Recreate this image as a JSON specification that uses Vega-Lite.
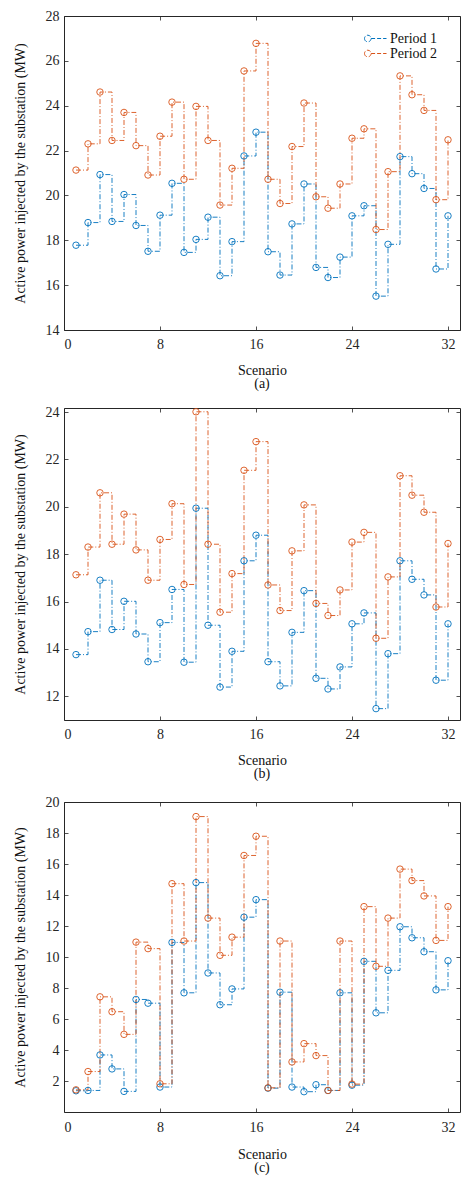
{
  "$schema": "https://vega.github.io/schema/vega-lite/v6.json",
  "padding": {"left": 12, "top": 8, "right": 1, "bottom": 0},
  "background": "white",
  "data": {"values": [
    {"p":"a","s":1,"Period 1":17.78,"Period 2":21.13},{"p":"a","s":2,"Period 1":18.79,"Period 2":22.30},{"p":"a","s":3,"Period 1":20.93,"Period 2":24.61},{"p":"a","s":4,"Period 1":18.84,"Period 2":22.45},
    {"p":"a","s":5,"Period 1":20.04,"Period 2":23.70},{"p":"a","s":6,"Period 1":18.66,"Period 2":22.22},{"p":"a","s":7,"Period 1":17.51,"Period 2":20.91},{"p":"a","s":8,"Period 1":19.12,"Period 2":22.64},
    {"p":"a","s":9,"Period 1":20.54,"Period 2":24.16},{"p":"a","s":10,"Period 1":17.46,"Period 2":20.72},{"p":"a","s":11,"Period 1":18.04,"Period 2":23.97},{"p":"a","s":12,"Period 1":19.03,"Period 2":22.45},
    {"p":"a","s":13,"Period 1":16.42,"Period 2":19.57},{"p":"a","s":14,"Period 1":17.94,"Period 2":21.21},{"p":"a","s":15,"Period 1":21.76,"Period 2":25.55},{"p":"a","s":16,"Period 1":22.82,"Period 2":26.78},
    {"p":"a","s":17,"Period 1":17.49,"Period 2":20.72},{"p":"a","s":18,"Period 1":16.45,"Period 2":19.64},{"p":"a","s":19,"Period 1":18.73,"Period 2":22.18},{"p":"a","s":20,"Period 1":20.51,"Period 2":24.12},
    {"p":"a","s":21,"Period 1":16.79,"Period 2":19.94},{"p":"a","s":22,"Period 1":16.34,"Period 2":19.43},{"p":"a","s":23,"Period 1":17.25,"Period 2":20.51},{"p":"a","s":24,"Period 1":19.09,"Period 2":22.55},
    {"p":"a","s":25,"Period 1":19.54,"Period 2":22.97},{"p":"a","s":26,"Period 1":15.51,"Period 2":18.48},{"p":"a","s":27,"Period 1":17.82,"Period 2":21.06},{"p":"a","s":28,"Period 1":21.73,"Period 2":25.33},
    {"p":"a","s":29,"Period 1":20.97,"Period 2":24.49},{"p":"a","s":30,"Period 1":20.31,"Period 2":23.79},{"p":"a","s":31,"Period 1":16.72,"Period 2":19.81},{"p":"a","s":32,"Period 1":19.09,"Period 2":22.48},
    {"p":"b","s":1,"Period 1":13.76,"Period 2":17.13},{"p":"b","s":2,"Period 1":14.73,"Period 2":18.30},{"p":"b","s":3,"Period 1":16.90,"Period 2":20.59},{"p":"b","s":4,"Period 1":14.82,"Period 2":18.42},
    {"p":"b","s":5,"Period 1":16.01,"Period 2":19.69},{"p":"b","s":6,"Period 1":14.63,"Period 2":18.18},{"p":"b","s":7,"Period 1":13.46,"Period 2":16.90},{"p":"b","s":8,"Period 1":15.11,"Period 2":18.62},
    {"p":"b","s":9,"Period 1":16.51,"Period 2":20.13},{"p":"b","s":10,"Period 1":13.44,"Period 2":16.72},{"p":"b","s":11,"Period 1":19.94,"Period 2":24.01},{"p":"b","s":12,"Period 1":15.00,"Period 2":18.42},
    {"p":"b","s":13,"Period 1":12.39,"Period 2":15.55},{"p":"b","s":14,"Period 1":13.90,"Period 2":17.18},{"p":"b","s":15,"Period 1":17.72,"Period 2":21.54},{"p":"b","s":16,"Period 1":18.80,"Period 2":22.75},
    {"p":"b","s":17,"Period 1":13.46,"Period 2":16.70},{"p":"b","s":18,"Period 1":12.44,"Period 2":15.62},{"p":"b","s":19,"Period 1":14.70,"Period 2":18.14},{"p":"b","s":20,"Period 1":16.46,"Period 2":20.08},
    {"p":"b","s":21,"Period 1":12.76,"Period 2":15.92},{"p":"b","s":22,"Period 1":12.31,"Period 2":15.41},{"p":"b","s":23,"Period 1":13.24,"Period 2":16.49},{"p":"b","s":24,"Period 1":15.06,"Period 2":18.51},
    {"p":"b","s":25,"Period 1":15.52,"Period 2":18.92},{"p":"b","s":26,"Period 1":11.48,"Period 2":14.45},{"p":"b","s":27,"Period 1":13.80,"Period 2":17.04},{"p":"b","s":28,"Period 1":17.72,"Period 2":21.31},
    {"p":"b","s":29,"Period 1":16.94,"Period 2":20.49},{"p":"b","s":30,"Period 1":16.28,"Period 2":19.77},{"p":"b","s":31,"Period 1":12.68,"Period 2":15.77},{"p":"b","s":32,"Period 1":15.06,"Period 2":18.45},
    {"p":"c","s":1,"Period 1":1.37,"Period 2":1.43},{"p":"c","s":2,"Period 1":1.39,"Period 2":2.61},{"p":"c","s":3,"Period 1":3.68,"Period 2":7.43},{"p":"c","s":4,"Period 1":2.78,"Period 2":6.47},
    {"p":"c","s":5,"Period 1":1.33,"Period 2":5.01},{"p":"c","s":6,"Period 1":7.26,"Period 2":10.96},{"p":"c","s":7,"Period 1":7.02,"Period 2":10.54},{"p":"c","s":8,"Period 1":1.61,"Period 2":1.82},
    {"p":"c","s":9,"Period 1":10.94,"Period 2":14.73},{"p":"c","s":10,"Period 1":7.69,"Period 2":11.03},{"p":"c","s":11,"Period 1":14.80,"Period 2":19.06},{"p":"c","s":12,"Period 1":8.97,"Period 2":12.51},
    {"p":"c","s":13,"Period 1":6.92,"Period 2":10.11},{"p":"c","s":14,"Period 1":7.94,"Period 2":11.28},{"p":"c","s":15,"Period 1":12.57,"Period 2":16.55},{"p":"c","s":16,"Period 1":13.70,"Period 2":17.79},
    {"p":"c","s":17,"Period 1":1.54,"Period 2":1.56},{"p":"c","s":18,"Period 1":7.73,"Period 2":11.03},{"p":"c","s":19,"Period 1":1.61,"Period 2":3.23},{"p":"c","s":20,"Period 1":1.31,"Period 2":4.41},
    {"p":"c","s":21,"Period 1":1.76,"Period 2":3.64},{"p":"c","s":22,"Period 1":1.39,"Period 2":1.39},{"p":"c","s":23,"Period 1":7.69,"Period 2":11.03},{"p":"c","s":24,"Period 1":1.73,"Period 2":1.80},
    {"p":"c","s":25,"Period 1":9.72,"Period 2":13.25},{"p":"c","s":26,"Period 1":6.40,"Period 2":9.40},{"p":"c","s":27,"Period 1":9.14,"Period 2":12.51},{"p":"c","s":28,"Period 1":11.95,"Period 2":15.67},
    {"p":"c","s":29,"Period 1":11.24,"Period 2":14.93},{"p":"c","s":30,"Period 1":10.34,"Period 2":13.94},{"p":"c","s":31,"Period 1":7.88,"Period 2":11.07},{"p":"c","s":32,"Period 1":9.76,"Period 2":13.25}
  ]},
  "transform": [{"fold": ["Period 1", "Period 2"], "as": ["k", "v"]}],
  "spacing": 12,
  "resolve": {"scale": {"color": "independent"}, "legend": {"color": "independent"}},
  "vconcat": [
    {
      "width": 396, "height": 314,
      "title": {"text": "(a)", "orient": "bottom", "offset": 0},
      "transform": [{"filter": "datum.p == 'a'"}],
      "resolve": {"axis": {"x": "independent", "y": "independent"}},
      "layer": [
        {
          "mark": {"type": "line", "interpolate": "step-after", "strokeDash": [5, 2, 1, 2], "strokeWidth": 0.9},
          "encoding": {
            "x": {"field": "s", "type": "quantitative", "scale": {"domain": [0, 33], "nice": false}, "axis": {"values": [0, 8, 16, 24, 32], "title": "Scenario", "titlePadding": 12}},
            "y": {"field": "v", "type": "quantitative", "scale": {"domain": [14, 28], "nice": false, "zero": false}, "axis": {"values": [14, 16, 18, 20, 22, 24, 26, 28], "title": "Active power injected by the substation (MW)"}},
            "color": {"field": "k", "type": "nominal", "scale": {"domain": ["Period 1", "Period 2"], "range": ["#0072BD", "#D95319"]},
              "legend": {"title": null, "orient": "none", "legendX": 300, "legendY": 15, "symbolType": "M -1 0 a 0.3 0.3 0 1 0 0.6 0 a 0.3 0.3 0 1 0 -0.6 0 M -0.4 0 L 1 0", "symbolSize": 484, "symbolStrokeWidth": 1, "symbolDash": [4, 2], "symbolFillColor": "transparent", "clipHeight": 15, "rowPadding": 0, "padding": 0, "labelFontSize": 14, "labelFont": "Liberation Serif", "labelColor": "#111", "labelOffset": 3}}
          }
        },
        {
          "mark": {"type": "point", "shape": "circle", "filled": false, "size": 42, "strokeWidth": 0.9, "opacity": 1},
          "encoding": {
            "x": {"field": "s", "type": "quantitative", "axis": {"orient": "top", "values": [0, 8, 16, 24, 32], "labels": false, "title": null}},
            "y": {"field": "v", "type": "quantitative", "axis": {"orient": "right", "values": [14, 16, 18, 20, 22, 24, 26, 28], "labels": false, "title": null}},
            "color": {"field": "k", "type": "nominal", "legend": null}
          }
        }
      ]
    },
    {
      "width": 396, "height": 312,
      "title": {"text": "(b)", "orient": "bottom", "offset": 0},
      "transform": [{"filter": "datum.p == 'b'"}],
      "resolve": {"axis": {"x": "independent", "y": "independent"}},
      "layer": [
        {
          "mark": {"type": "line", "interpolate": "step-after", "strokeDash": [5, 2, 1, 2], "strokeWidth": 0.9},
          "encoding": {
            "x": {"field": "s", "type": "quantitative", "scale": {"domain": [0, 33], "nice": false}, "axis": {"values": [0, 8, 16, 24, 32], "title": "Scenario", "titlePadding": 12}},
            "y": {"field": "v", "type": "quantitative", "scale": {"domain": [11, 24.17], "nice": false, "zero": false}, "axis": {"values": [12, 14, 16, 18, 20, 22, 24], "title": "Active power injected by the substation (MW)"}},
            "color": {"field": "k", "type": "nominal", "scale": {"domain": ["Period 1", "Period 2"], "range": ["#0072BD", "#D95319"]}, "legend": null}
          }
        },
        {
          "mark": {"type": "point", "shape": "circle", "filled": false, "size": 42, "strokeWidth": 0.9, "opacity": 1},
          "encoding": {
            "x": {"field": "s", "type": "quantitative", "axis": {"orient": "top", "values": [0, 8, 16, 24, 32], "labels": false, "title": null}},
            "y": {"field": "v", "type": "quantitative", "axis": {"orient": "right", "values": [12, 14, 16, 18, 20, 22, 24], "labels": false, "title": null}},
            "color": {"field": "k", "type": "nominal", "legend": null}
          }
        }
      ]
    },
    {
      "width": 396, "height": 310,
      "title": {"text": "(c)", "orient": "bottom", "offset": 0},
      "transform": [{"filter": "datum.p == 'c'"}],
      "resolve": {"axis": {"x": "independent", "y": "independent"}},
      "layer": [
        {
          "mark": {"type": "line", "interpolate": "step-after", "strokeDash": [5, 2, 1, 2], "strokeWidth": 0.9},
          "encoding": {
            "x": {"field": "s", "type": "quantitative", "scale": {"domain": [0, 33], "nice": false}, "axis": {"values": [0, 8, 16, 24, 32], "title": "Scenario", "labelPadding": 12, "titlePadding": 13}},
            "y": {"field": "v", "type": "quantitative", "scale": {"domain": [0, 20], "nice": false}, "axis": {"values": [2, 4, 6, 8, 10, 12, 14, 16, 18, 20], "title": "Active power injected by the substation (MW)"}},
            "color": {"field": "k", "type": "nominal", "scale": {"domain": ["Period 1", "Period 2"], "range": ["#0072BD", "#D95319"]}, "legend": null}
          }
        },
        {
          "mark": {"type": "point", "shape": "circle", "filled": false, "size": 42, "strokeWidth": 0.9, "opacity": 1},
          "encoding": {
            "x": {"field": "s", "type": "quantitative", "axis": {"orient": "top", "values": [0, 8, 16, 24, 32], "labels": false, "title": null}},
            "y": {"field": "v", "type": "quantitative", "axis": {"orient": "right", "values": [2, 4, 6, 8, 10, 12, 14, 16, 18, 20], "labels": false, "title": null}},
            "color": {"field": "k", "type": "nominal", "legend": null}
          }
        }
      ]
    }
  ],
  "config": {
    "font": "Liberation Serif",
    "view": {"stroke": "#262626", "strokeWidth": 1},
    "axis": {
      "grid": false, "domain": false,
      "tickSize": -4, "tickColor": "#262626", "tickWidth": 0.8,
      "labelFont": "Liberation Serif", "labelFontSize": 14, "labelColor": "#262626", "labelPadding": 9,
      "titleFont": "Liberation Serif", "titleFontSize": 14, "titleFontWeight": "normal", "titleColor": "#111"
    },
    "axisBottom": {"labelPadding": 11, "titlePadding": 10},
    "axisLeft": {"titlePadding": 18},
    "title": {"font": "Liberation Serif", "fontSize": 14, "fontWeight": "normal", "color": "#111"}
  }
}
